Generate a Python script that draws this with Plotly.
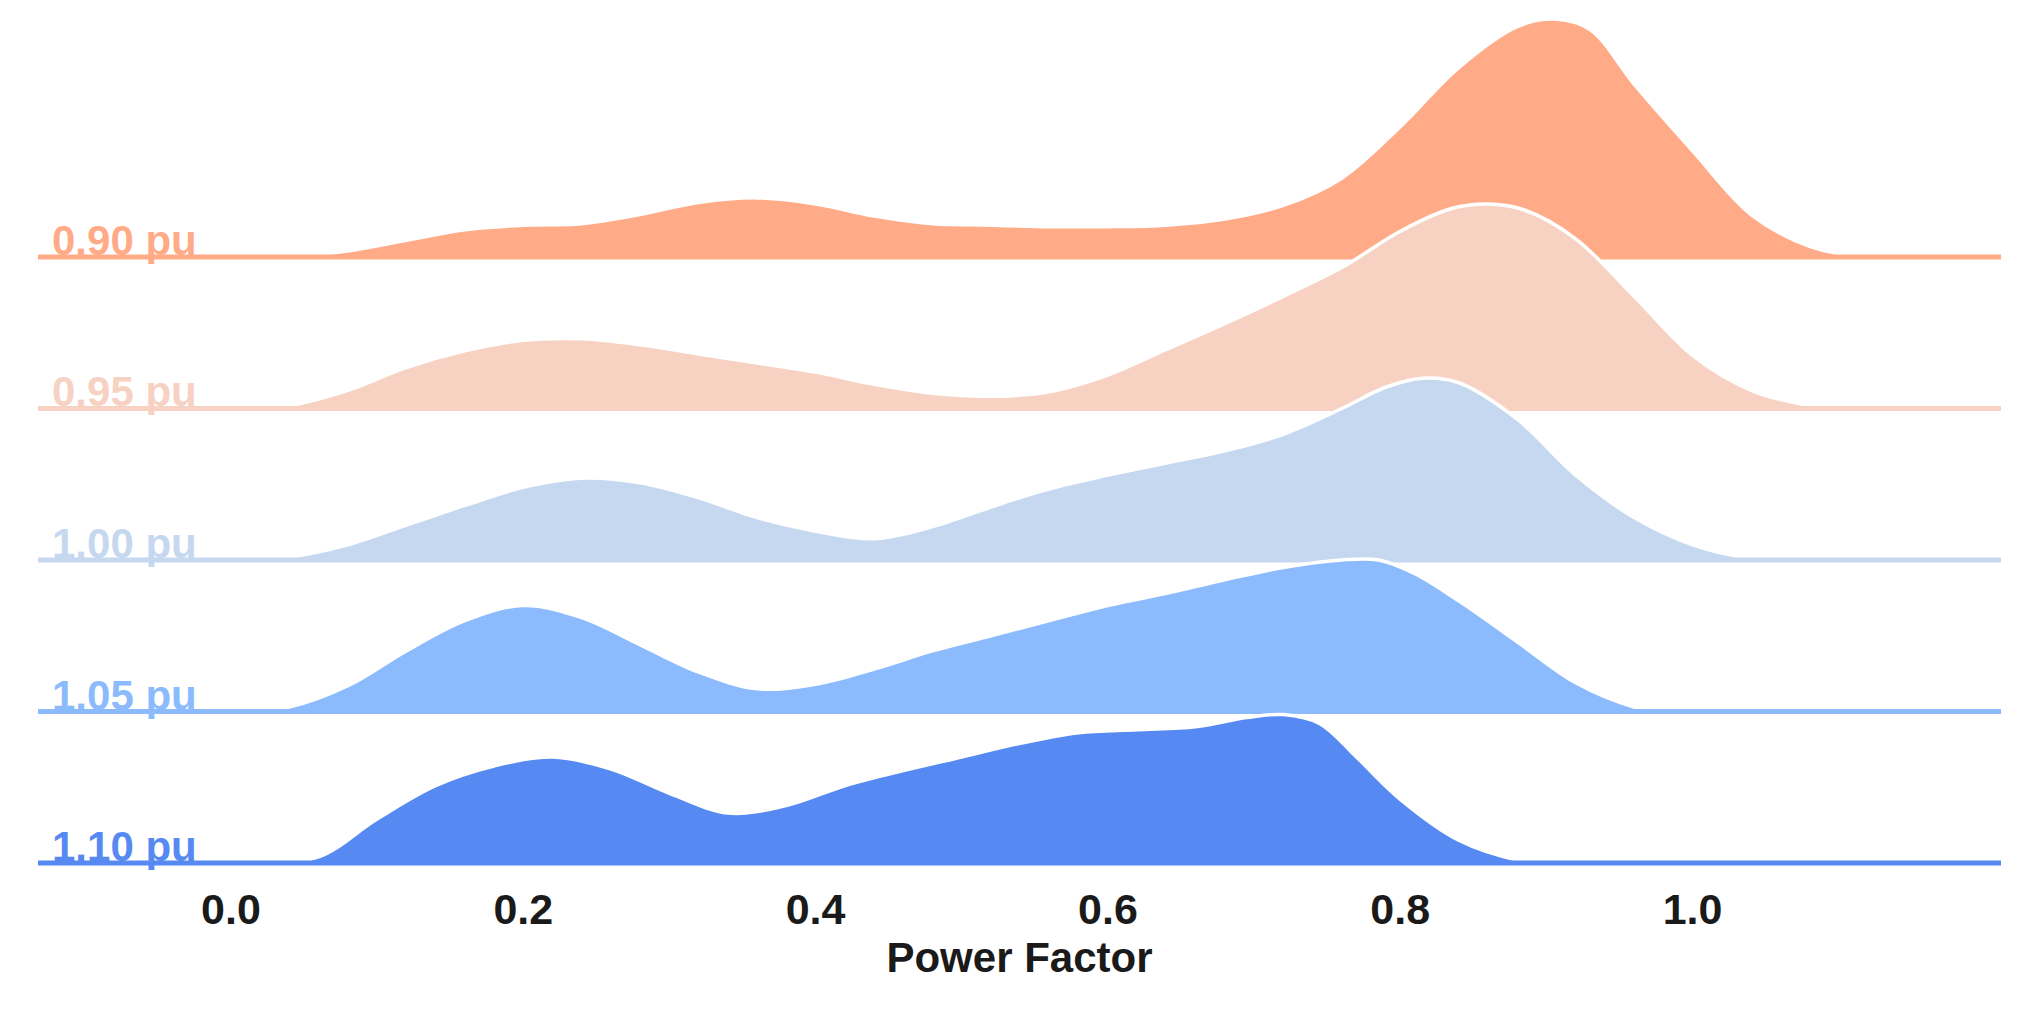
import plotly.graph_objects as go

# ---- data ----
labels = ["0.90 pu", "0.95 pu", "1.00 pu", "1.05 pu", "1.10 pu"]
colors = ["#FFAB87", "#F7D2C3", "#C5D8F0", "#8BBBFD", "#5689F1"]

x_090 = [-0.135, 0.04, 0.08, 0.12, 0.16, 0.20, 0.24, 0.28, 0.32, 0.36, 0.40, 0.44, 0.48, 0.52, 0.56,
         0.60, 0.64, 0.68, 0.72, 0.76, 0.80, 0.84, 0.88, 0.905, 0.93, 0.96, 1.00, 1.04, 1.08, 1.12, 1.215]
d_090 = [0, 0, 0.04, 0.11, 0.18, 0.21, 0.22, 0.28, 0.36, 0.39, 0.35, 0.27, 0.22, 0.21, 0.20,
         0.20, 0.21, 0.25, 0.34, 0.52, 0.86, 1.25, 1.52, 1.57, 1.50, 1.14, 0.70, 0.28, 0.07, 0, 0]

x_095 = [-0.135, 0.00, 0.04, 0.08, 0.12, 0.16, 0.20, 0.24, 0.28, 0.32, 0.36, 0.40, 0.44, 0.48, 0.52,
         0.56, 0.60, 0.64, 0.68, 0.72, 0.76, 0.80, 0.835, 0.86, 0.885, 0.92, 0.96, 1.00, 1.04, 1.08, 1.11, 1.215]
d_095 = [0, 0, 0.02, 0.12, 0.27, 0.38, 0.45, 0.46, 0.42, 0.36, 0.30, 0.24, 0.16, 0.10, 0.08,
         0.11, 0.22, 0.39, 0.56, 0.74, 0.93, 1.17, 1.32, 1.35, 1.31, 1.12, 0.74, 0.35, 0.12, 0.02, 0, 0]

x_100 = [-0.135, 0.00, 0.04, 0.08, 0.12, 0.16, 0.20, 0.24, 0.28, 0.32, 0.36, 0.40, 0.44, 0.48, 0.52,
         0.56, 0.60, 0.64, 0.68, 0.72, 0.76, 0.79, 0.815, 0.84, 0.88, 0.92, 0.96, 1.00, 1.04, 1.06, 1.215]
d_100 = [0, 0, 0.02, 0.10, 0.23, 0.36, 0.48, 0.54, 0.51, 0.41, 0.28, 0.19, 0.14, 0.22, 0.35,
         0.47, 0.56, 0.64, 0.72, 0.83, 1.00, 1.14, 1.20, 1.17, 0.93, 0.56, 0.28, 0.10, 0.01, 0, 0]

x_105 = [-0.135, 0.00, 0.04, 0.08, 0.12, 0.16, 0.20, 0.24, 0.28, 0.32, 0.36, 0.40, 0.44, 0.48, 0.52,
         0.56, 0.60, 0.64, 0.68, 0.72, 0.76, 0.785, 0.81, 0.84, 0.88, 0.92, 0.96, 0.98, 1.215]
d_105 = [0, 0, 0.03, 0.17, 0.40, 0.60, 0.70, 0.62, 0.44, 0.26, 0.15, 0.18, 0.28, 0.40, 0.50,
         0.60, 0.70, 0.78, 0.87, 0.95, 1.00, 1.00, 0.91, 0.73, 0.46, 0.19, 0.03, 0, 0]

x_110 = [-0.135, 0.02, 0.06, 0.10, 0.14, 0.18, 0.22, 0.26, 0.30, 0.34, 0.38, 0.42, 0.46, 0.50, 0.54,
         0.58, 0.62, 0.66, 0.695, 0.72, 0.745, 0.77, 0.80, 0.84, 0.88, 0.90, 1.215]
d_110 = [0, 0, 0.04, 0.29, 0.51, 0.64, 0.70, 0.62, 0.46, 0.33, 0.38, 0.51, 0.61, 0.70, 0.79,
         0.86, 0.88, 0.90, 0.96, 0.98, 0.92, 0.70, 0.42, 0.15, 0.02, 0, 0]

xs = [x_090, x_095, x_100, x_105, x_110]
ds = [d_090, d_095, d_100, d_105, d_110]
offsets = [4, 3, 2, 1, 0]

tick_vals = [0.0, 0.2, 0.4, 0.6, 0.8, 1.0]
tick_text = ["0.0", "0.2", "0.4", "0.6", "0.8", "1.0"]
x_range = [-0.132, 1.211]

FONT = "Liberation Sans, Arial, Helvetica, sans-serif"

fig = go.Figure()
for lab, col, x, d, off in zip(labels, colors, xs, ds, offsets):
    # invisible baseline for the fill
    fig.add_trace(go.Scatter(x=x, y=[off] * len(x), mode="lines",
                             line=dict(width=0, color=col), hoverinfo="skip", showlegend=False))
    # density ridge
    fig.add_trace(go.Scatter(x=x, y=[off + v for v in d], mode="lines", fill="tonexty",
                             fillcolor=col,
                             line=dict(color="white", width=3.5, shape="spline", smoothing=1.0),
                             name=lab, showlegend=False))
    # coloured baseline
    fig.add_trace(go.Scatter(x=x_range, y=[off, off], mode="lines",
                             line=dict(color=col, width=5), hoverinfo="skip", showlegend=False))
    fig.add_annotation(x=-0.124, y=off, xref="x", yref="y", text=lab, showarrow=False,
                       xanchor="left", yanchor="bottom", yshift=-9,
                       font=dict(family=FONT, size=42, color=col, weight="bold"))

fig.update_layout(
    width=2033, height=1009,
    margin=dict(l=38, r=32, t=0, b=129),
    plot_bgcolor="white", paper_bgcolor="white",
    xaxis=dict(range=x_range, tickvals=tick_vals, ticktext=tick_text, showgrid=False,
               zeroline=False, showline=False, ticks="",
               tickfont=dict(family=FONT, size=43, color="#1a1a1a", weight="bold"),
               title=dict(text="Power Factor", standoff=10,
                          font=dict(family=FONT, size=42, color="#1a1a1a", weight="bold"))),
    yaxis=dict(range=[-0.112, 5.696], showgrid=False, zeroline=False, showline=False,
               showticklabels=False, ticks=""),
)

fig.write_html("out.html", config={"displayModeBar": False},
               post_script="document.body.style.margin='0';")
